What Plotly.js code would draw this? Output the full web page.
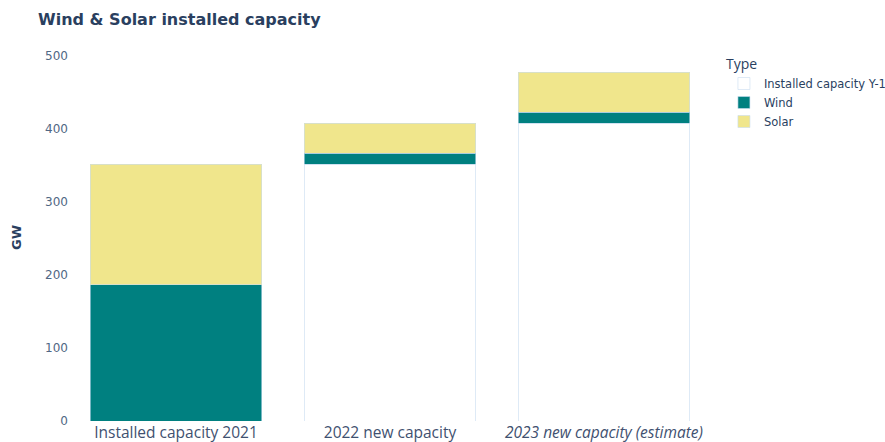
<!DOCTYPE html>
<html><head><meta charset="utf-8">
<script src="https://cdn.plot.ly/plotly-3.0.1.min.js"></script>
<style>body{margin:0;padding:0;background:#fff}</style>
</head><body>
<div id="chart" style="width:885px;height:442px"></div>
<script>
const categories = ["Installed capacity 2021", "2022 new capacity", "<i>2023 new capacity (estimate)</i>"];
const baseValues = [0, 352, 408];
const windValues = [187, 15, 15];
const solarValues = [165, 41, 55];
const seriesNames = ["Installed capacity Y-1", "Wind", "Solar"];

const lineStyle = {color: "rgba(200,220,240,0.6)", width: 1};
const traces = [
  {type: "bar", name: seriesNames[0], x: categories, y: baseValues,
   marker: {color: "#ffffff", line: lineStyle}},
  {type: "bar", name: seriesNames[1], x: categories, y: windValues,
   marker: {color: "#008080", line: lineStyle}},
  {type: "bar", name: seriesNames[2], x: categories, y: solarValues,
   marker: {color: "#f0e68c", line: lineStyle}}
];

const layout = {
  width: 885, height: 442,
  barmode: "stack", bargap: 0.2,
  paper_bgcolor: "#fff", plot_bgcolor: "#fff",
  margin: {l: 69, r: 174, t: 54, b: 21},
  font: {family: "DejaVu Sans, Verdana, sans-serif", size: 12, color: "#2a3f5f"},
  title: {text: "<b>Wind & Solar installed capacity</b>", x: 0.043, xanchor: "left", y: 0.957, yanchor: "middle",
          font: {family: "DejaVu Sans, Verdana, sans-serif", size: 16, color: "#2a3f5f"}},
  xaxis: {showgrid: false, zeroline: false, showline: false, ticks: "",
          tickfont: {family: "Open Sans, sans-serif", size: 15.5, color: "#3f5170"}},
  yaxis: {range: [0, 503], showgrid: false, zeroline: false, showline: false, ticks: "",
          tickvals: [0, 100, 200, 300, 400, 500],
          tickfont: {family: "DejaVu Sans, Verdana, sans-serif", size: 12, color: "#506784"},
          title: {text: "<b>GW</b>", standoff: 20, font: {family: "DejaVu Sans, Verdana, sans-serif", size: 13, color: "#2a3f5f"}}},
  legend: {title: {text: "Type", font: {family: "Open Sans, sans-serif", size: 14, color: "#2a3f5f"}},
           xref: "container", yref: "container",
           x: 0.818, xanchor: "left", y: 0.885, yanchor: "top", tracegroupgap: 0, traceorder: "normal",
           font: {family: "DejaVu Sans, Verdana, sans-serif", size: 11.5, color: "#2a3f5f"}},
  showlegend: true
};

Plotly.newPlot("chart", traces, layout, {displayModeBar: false});
</script>
</body></html>
